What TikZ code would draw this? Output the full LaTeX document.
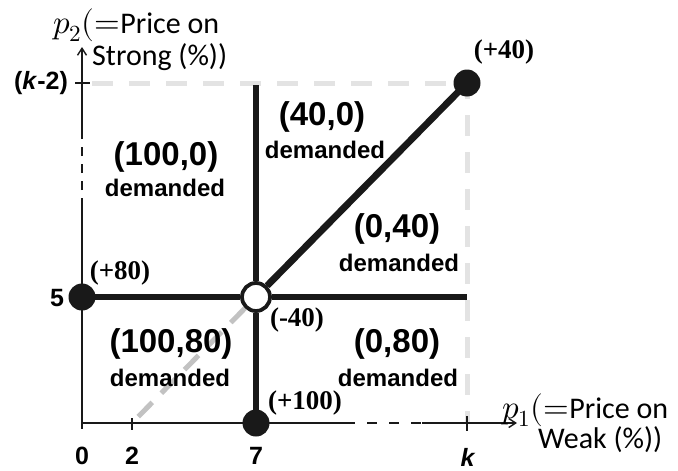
\documentclass[tikz,border=0pt]{standalone}
\usepackage{fontspec}
\usepackage{unicode-math}
\setmathfont{Latin Modern Math}
\newfontfamily\arialf{Liberation Sans}
\newfontfamily\timesf{Liberation Serif}
\newfontfamily\calf{Carlito}
\usetikzlibrary{arrows.meta}
\newcommand{\mathpart}[1]{{\fontsize{33}{35}\selectfont$#1$}}
\begin{document}
\begin{tikzpicture}[x=1pt,y=-1pt,
  heavy/.style={line width=6.8pt, black!90},
  axisline/.style={line width=1.4pt, black!90},
  greydash/.style={line width=5pt, black!11, dash pattern=on 21pt off 16pt},
  diagdash/.style={line width=5pt, black!24, dash pattern=on 20pt off 13pt},
  bdot/.style={circle, fill=black!90, minimum size=27pt, inner sep=0pt},
  wdot/.style={circle, draw=black!90, fill=white, line width=3.8pt, minimum size=28pt, inner sep=0pt},
  region/.style={font=\arialf\bfseries\fontsize{33}{35}\selectfont, inner sep=0pt},
  dem/.style={font=\arialf\bfseries\fontsize{24}{26}\selectfont, inner sep=0pt},
  ptlab/.style={font=\timesf\bfseries\fontsize{27}{29}\selectfont, inner sep=0pt},
  ticklab/.style={font=\arialf\bfseries\fontsize{25}{27}\selectfont, inner sep=0pt},
  axlab/.style={font=\calf\fontsize{30}{32}\selectfont, inner sep=0pt, anchor=base west},
]
\useasboundingbox (0,0) rectangle (678,471);

% key coordinates
\coordinate (orig) at (82,423);
\coordinate (ytop) at (82,47);
\coordinate (xend) at (517,423);
\coordinate (ys1) at (82,207);
\coordinate (ys2) at (82,130);
\coordinate (xs1) at (345,423);
\coordinate (xs2) at (422,423);
\coordinate (gtl) at (92,83);
\coordinate (gtr) at (467,83);
\coordinate (gbr) at (467,423);
\coordinate (d2) at (132,423);
\coordinate (hend) at (467,297);
\coordinate (vtop) at (256,85);

% grey dashed guides
\draw[greydash] (gtl) -- (gtr) -- (gbr);

% axes
\draw[axisline] (orig) -- (ys1);
\draw[axisline, dash pattern=on 9pt off 8pt] (ys1) -- (ys2);
\draw[axisline, -{Straight Barb[length=7pt,width=9pt]}] (ys2) -- (ytop);
\draw[axisline] (orig) -- (xs1);
\draw[axisline, dash pattern=on 10pt off 12pt] (xs1) -- (xs2);
\draw[axisline, -{Straight Barb[length=7pt,width=9pt]}] (xs2) -- (xend);

% ticks
\coordinate (tk2a) at (75,83); \coordinate (tk2b) at (90,83);
\draw[axisline] (tk2a) -- (tk2b);
\coordinate (t0a) at (82,423); \coordinate (t0b) at (82,429);
\draw[axisline] (t0a) -- (t0b);
\coordinate (t2a) at (132,418); \coordinate (t2b) at (132,430);
\draw[axisline] (t2a) -- (t2b);
\coordinate (tka) at (467,416); \coordinate (tkb) at (467,431);
\draw[axisline] (tka) -- (tkb);

% dots
\node[bdot] (A) at (82,297) {};
\node[bdot] (B) at (256,423) {};
\node[bdot] (C) at (467,83) {};
\node[wdot] (O) at (256,297) {};

% grey diagonal
\draw[diagdash] (O) -- (d2);

% heavy lines
\draw[heavy] (A.center) -- (O);
\draw[heavy] (O) -- (hend);
\draw[heavy] (vtop) -- (O);
\draw[heavy] (O) -- (B.center);
\draw[heavy] (O) -- (C.center);

% region labels
\node[region] (r1) at (166,157) {(100,0)};
\node[dem] (r1d) at (165,188) {demanded};
\node[region] (r2) at (322,117) {(40,0)};
\node[dem] (r2d) at (325,150) {demanded};
\node[region] (r3) at (397,229) {(0,40)};
\node[dem] (r3d) at (399,263) {demanded};
\node[region] (r4) at (171,344) {(100,80)};
\node[dem] (r4d) at (170,378) {demanded};
\node[region] (r5) at (397,344) {(0,80)};
\node[dem] (r5d) at (398,378) {demanded};

% point labels
\node[ptlab] (lC) at (504,52) {(+40)};
\node[ptlab] (lA) at (120,273) {(+80)};
\node[ptlab] (lO) at (297,320) {(-40)};
\node[ptlab] (lB) at (305,403) {(+100)};

% tick labels
\node[ticklab] (k2) at (41,83) {(\textit{k}-2)};
\node[ticklab] (f5) at (57,298) {5};
\node[ticklab] (x0) at (82,456) {0};
\node[ticklab] (x2) at (132,456) {2};
\node[ticklab] (x7) at (256,456) {7};
\node[ticklab] (xk) at (468,457) {\textit{k}};

% axis labels
\node[axlab] (ya1) at (53,33) {\mathpart{p_2(\mathord{=}}Price on};
\node[axlab] (ya2) at (92,65) {Strong (\%))};
\node[axlab] (xa1) at (502,418) {\mathpart{p_1(\mathord{=}}Price on};
\node[axlab] (xa2) at (538,448) {Weak (\%))};
\end{tikzpicture}
\end{document}
